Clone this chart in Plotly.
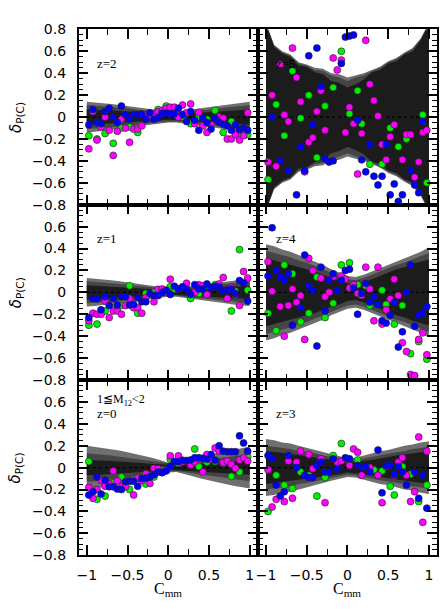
import plotly.graph_objects as go

# ---------------- data ----------------
cmm_bins = [-0.975, -0.925, -0.875, -0.825, -0.775, -0.725, -0.675, -0.625, -0.575, -0.525,
            -0.475, -0.425, -0.375, -0.325, -0.275, -0.225, -0.175, -0.125, -0.075, -0.025,
            0.025, 0.075, 0.125, 0.175, 0.225, 0.275, 0.325, 0.375, 0.425, 0.475,
            0.525, 0.575, 0.625, 0.675, 0.725, 0.775, 0.825, 0.875, 0.925, 0.975]
band_x = [-1.0, -0.9, -0.8, -0.7, -0.6, -0.5, -0.4, -0.3, -0.2, -0.1, 0.0,
          0.1, 0.2, 0.3, 0.4, 0.5, 0.6, 0.7, 0.8, 0.9, 1.0]

N = None
# z = 2
z2_blue = [-0.07, 0.07, -0.05, -0.06, 0.05, 0.08, 0.0, -0.05, 0.1, 0.02, -0.02, 0.02, 0.02, 0.025, -0.02, 0.04, -0.02, -0.005, 0.035, 0.035,
           0.03, 0.03, 0.08, 0.02, -0.04, 0.05, -0.03, -0.12, -0.01, -0.05, -0.11, -0.01, -0.05, -0.065, -0.08, -0.12, -0.07, -0.115, -0.1, -0.12]
z2_magenta = [-0.29, 0.05, -0.21, -0.09, 0.0, -0.12, -0.35, -0.13, -0.02, -0.1, -0.23, -0.11, -0.11, -0.08, 0.02, 0.01, 0.03, 0.05, 0.06, 0.08,
              0.09, 0.09, 0.0, 0.11, 0.04, 0.12, -0.06, 0.04, -0.08, -0.14, -0.07, -0.01, 0.0, -0.01, -0.2, -0.2, -0.16, -0.21, -0.17, 0.04]
z2_green = [-0.17, N, -0.2, N, -0.15, N, -0.24, N, -0.1, N, -0.09, N, -0.14, N, N, N, 0.03, 0.07, N, 0.1,
            N, 0.04, N, 0.0, N, -0.06, N, 0.0, N, -0.02, N, 0.06, 0.0, -0.14, N, -0.04, N, -0.19, -0.15, -0.16]
# z = 1
z1_blue = [-0.23, -0.056, -0.06, -0.16, -0.04, -0.12, -0.056, -0.115, -0.04, -0.04, -0.115, -0.11, -0.05, -0.086, -0.086, -0.01, -0.03, -0.03, 0.0, 0.02,
           -0.02, 0.056, 0.03, 0.05, 0.03, -0.02, 0.07, 0.03, 0.03, 0.077, 0.04, 0.056, 0.05, 0.01, 0.02, 0.03, -0.01, 0.107, 0.086, -0.08]
z1_magenta = [-0.26, -0.19, -0.2, -0.2, -0.08, -0.23, -0.17, -0.17, -0.2, -0.12, -0.056, -0.14, -0.14, -0.19, -0.05, N, -0.086, 0.027, 0.03, 0.0,
              0.12, N, 0.03, N, 0.083, N, 0.0, 0.07, 0.06, -0.02, 0.045, N, 0.077, 0.136, -0.056, 0.047, -0.02, -0.12, 0.19, 0.13]
z1_green = [-0.3, N, -0.29, N, -0.17, N, -0.14, N, -0.12, N, 0.06, N, -0.19, N, -0.01, N, 0.0, N, N, N,
            0.05, 0.03, N, N, N, -0.056, N, -0.01, N, 0.056, N, 0.07, N, N, N, -0.17, 0.01, 0.39, N, 0.02]
# z = 0
z0_blue = [-0.25, -0.22, -0.086, -0.24, -0.115, -0.175, -0.175, -0.195, -0.2, -0.13, -0.125, -0.125, -0.17, -0.1, -0.095, -0.086, -0.065, -0.04, -0.047, -0.03,
           0.012, 0.056, 0.053, 0.068, 0.065, 0.07, 0.09, 0.09, 0.086, 0.077, 0.12, 0.068, 0.2, 0.15, 0.145, 0.145, 0.145, 0.29, 0.225, 0.15]
z0_magenta = [-0.18, -0.28, -0.2, -0.115, -0.17, -0.15, -0.03, -0.12, -0.175, -0.175, -0.115, -0.25, -0.095, -0.12, -0.056, -0.145, -0.006, -0.01, -0.04, -0.02,
              0.107, N, 0.107, 0.053, N, 0.024, 0.053, 0.077, -0.04, 0.12, 0.077, 0.18, 0.15, 0.047, 0.06, 0.03, -0.006, 0.07, 0.09, 0.06]
z0_green = [0.056, N, -0.29, N, -0.26, N, -0.14, N, -0.086, N, -0.2, N, -0.095, N, -0.15, N, -0.086, N, -0.02, N,
            0.077, N, 0.04, N, N, N, 0.17, 0.01, N, 0.05, N, 0.056, N, 0.04, N, -0.08, N, -0.04, N, 0.1]
# z = 5
z5_blue = [N, 0.0, N, -0.4, N, -0.49, N, -0.71, -0.27, -0.49, 0.56, -0.07, 0.63, 0.28, -0.38, -0.41, -0.4, N, 0.49, 0.73,
           0.74, 0.75, -0.03, -0.39, -0.5, -0.25, -0.54, -0.62, -0.54, -0.25, -0.71, -0.61, -0.77, -0.71, N, -0.49, -0.62, -0.69, -0.04, N]
z5_magenta = [-0.41, 0.2, -0.45, 0.48, 0.02, -0.04, 0.63, 0.36, 0.14, -0.5, -0.23, -0.19, 0.05, 0.24, -0.12, N, 0.54, 0.43, 0.52, -0.14,
              0.09, -0.06, -0.52, -0.15, 0.7, 0.3, 0.15, 0.01, -0.25, -0.39, -0.18, -0.07, N, -0.39, -0.16, -0.16, -0.55, -0.41, -0.14, -0.12]
z5_green = [-0.57, N, 0.115, N, -0.17, N, 0.42, N, -0.01, N, 0.2, N, -0.37, N, 0.1, N, 0.27, N, 0.6, N,
            0.03, N, 0.24, -0.06, N, -0.43, N, N, -0.43, N, -0.1, N, -0.27, N, -0.2, N, N, N, 0.02, -0.6]
# z = 4
z4_blue = [0.15, 0.59, 0.2, 0.14, 0.11, 0.17, -0.3, N, -0.14, 0.34, 0.06, 0.02, -0.49, 0.23, -0.17, 0.11, 0.17, 0.02, 0.11, 0.2,
           0.21, 0.04, -0.2, -0.01, 0.08, -0.09, -0.04, -0.11, -0.26, -0.28, -0.21, -0.09, -0.5, -0.36, 0.0, 0.25, -0.31, -0.21, -0.19, -0.13]
z4_magenta = [0.28, 0.01, N, -0.13, -0.4, -0.12, 0.03, -0.09, -0.03, -0.43, 0.31, 0.2, N, 0.13, -0.04, 0.0, 0.14, N, 0.15, 0.12,
              0.04, 0.07, -0.01, -0.03, 0.23, 0.03, -0.26, 0.23, -0.29, -0.16, -0.06, 0.12, -0.03, -0.46, -0.54, -0.75, -0.76, -0.43, -0.37, -0.57]
z4_green = [-0.19, N, -0.35, N, 0.25, N, 0.17, N, -0.27, N, -0.19, N, 0.14, N, -0.23, N, -0.1, N, 0.25, N,
            0.27, N, 0.07, N, 0.06, -0.12, N, N, 0.02, -0.11, N, -0.29, N, -0.12, N, -0.56, N, -0.45, N, -0.61]
# z = 3
z3_blue = [0.11, 0.08, -0.16, -0.26, -0.22, 0.11, N, 0.0, N, -0.07, -0.09, -0.09, 0.02, 0.05, -0.04, -0.04, 0.08, -0.01, N, 0.09,
           0.08, N, 0.02, 0.0, 0.01, -0.04, N, 0.16, -0.23, 0.02, 0.02, -0.06, 0.01, -0.04, -0.16, N, -0.04, -0.28, -0.07, -0.37]
z3_magenta = [-0.02, -0.36, -0.29, N, -0.31, 0.06, -0.28, 0.05, 0.15, N, 0.12, -0.01, N, 0.08, -0.32, N, N, 0.05, 0.06, N,
              0.02, 0.17, 0.14, -0.07, N, 0.0, N, -0.07, -0.32, 0.01, N, -0.07, 0.05, 0.09, -0.07, -0.31, -0.22, 0.28, -0.5, 0.15]
z3_green = [-0.4, N, -0.07, N, -0.16, N, -0.19, N, -0.04, N, -0.07, N, -0.26, N, -0.09, N, 0.11, N, 0.22, N,
            N, N, 0.07, N, N, N, -0.02, N, -0.03, N, -0.17, -0.25, N, 0.01, N, -0.06, N, -0.31, N, -0.16]

# band half-widths (light = outer, mid, dark = inner)
z2_light = [0.14, 0.135, 0.13, 0.12, 0.11, 0.10, 0.09, 0.08, 0.07, 0.06, 0.05, 0.05, 0.06, 0.07, 0.08, 0.09, 0.10, 0.11, 0.12, 0.13, 0.14]
z2_mid = [0.11, 0.105, 0.10, 0.095, 0.085, 0.08, 0.07, 0.06, 0.055, 0.045, 0.04, 0.04, 0.045, 0.05, 0.06, 0.07, 0.08, 0.085, 0.095, 0.10, 0.11]
z2_dark = [0.07, 0.068, 0.065, 0.06, 0.055, 0.05, 0.045, 0.04, 0.035, 0.03, 0.025, 0.025, 0.03, 0.035, 0.04, 0.045, 0.05, 0.055, 0.06, 0.065, 0.07]
z1_light = [0.13, 0.125, 0.12, 0.11, 0.10, 0.09, 0.08, 0.07, 0.06, 0.05, 0.04, 0.04, 0.05, 0.06, 0.07, 0.08, 0.09, 0.10, 0.11, 0.12, 0.125]
z1_mid = [0.10, 0.095, 0.09, 0.085, 0.075, 0.07, 0.06, 0.055, 0.045, 0.04, 0.03, 0.03, 0.04, 0.045, 0.055, 0.06, 0.07, 0.075, 0.085, 0.09, 0.095]
z1_dark = [0.065, 0.06, 0.058, 0.055, 0.05, 0.045, 0.04, 0.035, 0.03, 0.025, 0.02, 0.02, 0.025, 0.03, 0.035, 0.04, 0.045, 0.05, 0.055, 0.058, 0.06]
z0_light = [0.20, 0.19, 0.18, 0.17, 0.155, 0.14, 0.125, 0.11, 0.09, 0.07, 0.045, 0.04, 0.06, 0.08, 0.10, 0.12, 0.135, 0.15, 0.165, 0.18, 0.19]
z0_mid = [0.13, 0.125, 0.12, 0.11, 0.10, 0.09, 0.08, 0.07, 0.06, 0.05, 0.035, 0.03, 0.045, 0.055, 0.065, 0.075, 0.085, 0.095, 0.105, 0.115, 0.125]
z0_dark = [0.07, 0.068, 0.065, 0.06, 0.055, 0.05, 0.045, 0.04, 0.035, 0.028, 0.02, 0.02, 0.025, 0.03, 0.035, 0.04, 0.045, 0.05, 0.055, 0.06, 0.065]
z5_light = [0.86, 0.66, 0.6, 0.57, 0.5, 0.48, 0.45, 0.44, 0.4, 0.39, 0.36, 0.38, 0.4, 0.43, 0.46, 0.51, 0.54, 0.59, 0.63, 0.72, 0.86]
z5_mid = [0.85, 0.65, 0.59, 0.56, 0.49, 0.47, 0.43, 0.42, 0.38, 0.36, 0.33, 0.36, 0.38, 0.42, 0.45, 0.5, 0.53, 0.58, 0.62, 0.71, 0.85]
z5_dark = [0.85, 0.64, 0.58, 0.55, 0.47, 0.46, 0.41, 0.39, 0.33, 0.31, 0.27, 0.3, 0.34, 0.41, 0.43, 0.49, 0.51, 0.57, 0.6, 0.7, 0.85]
z4_light = [0.44, 0.42, 0.39, 0.37, 0.34, 0.31, 0.28, 0.25, 0.21, 0.18, 0.15, 0.14, 0.16, 0.19, 0.22, 0.25, 0.28, 0.31, 0.34, 0.37, 0.41]
z4_mid = [0.38, 0.36, 0.34, 0.32, 0.29, 0.27, 0.24, 0.21, 0.18, 0.15, 0.12, 0.11, 0.13, 0.16, 0.19, 0.22, 0.25, 0.27, 0.3, 0.33, 0.36]
z4_dark = [0.31, 0.29, 0.27, 0.25, 0.23, 0.21, 0.19, 0.16, 0.13, 0.11, 0.08, 0.07, 0.09, 0.12, 0.15, 0.18, 0.21, 0.23, 0.26, 0.28, 0.3]
z3_light = [0.26, 0.25, 0.23, 0.22, 0.2, 0.18, 0.16, 0.14, 0.12, 0.1, 0.085, 0.09, 0.11, 0.13, 0.15, 0.16, 0.18, 0.2, 0.21, 0.23, 0.24]
z3_mid = [0.2, 0.19, 0.18, 0.17, 0.15, 0.14, 0.13, 0.11, 0.095, 0.08, 0.065, 0.07, 0.085, 0.1, 0.115, 0.13, 0.14, 0.15, 0.17, 0.18, 0.19]
z3_dark = [0.15, 0.145, 0.135, 0.125, 0.115, 0.105, 0.095, 0.085, 0.07, 0.06, 0.045, 0.05, 0.06, 0.07, 0.085, 0.1, 0.11, 0.12, 0.13, 0.14, 0.15]

x_tick_vals = [-1, -0.5, 0, 0.5, 1]
x_tick_text = ["\u22121", "\u22120.5", "0", "0.5", "1"]
y_tick_vals = [-0.8, -0.6, -0.4, -0.2, 0, 0.2, 0.4, 0.6, 0.8]
y_tick_text = ["\u22120.8", "\u22120.6", "\u22120.4", "\u22120.2", "0", "0.2", "0.4", "0.6", "0.8"]

# ---------------- figure ----------------
W, H = 444, 609
col_px = [(77, 257), (257, 437)]
row_px = [(22, 202), (202, 382), (382, 562)]

panels = [
    (0, 0, "z=2", z2_blue, z2_magenta, z2_green, z2_light, z2_mid, z2_dark),
    (0, 1, "z=5", z5_blue, z5_magenta, z5_green, z5_light, z5_mid, z5_dark),
    (1, 0, "z=1", z1_blue, z1_magenta, z1_green, z1_light, z1_mid, z1_dark),
    (1, 1, "z=4", z4_blue, z4_magenta, z4_green, z4_light, z4_mid, z4_dark),
    (2, 0, "z=0", z0_blue, z0_magenta, z0_green, z0_light, z0_mid, z0_dark),
    (2, 1, "z=3", z3_blue, z3_magenta, z3_green, z3_light, z3_mid, z3_dark),
]

fig = go.Figure()
band_colors = ["#6f6f6f", "#454545", "#1c1c1c"]
annotations = []
layout_axes = {}

for k, (r, c, label, blue, mag, green, light, mid, dark) in enumerate(panels):
    n = k + 1
    xa = "x" if n == 1 else f"x{n}"
    ya = "y" if n == 1 else f"y{n}"
    for w, colr in zip([light, mid, dark], band_colors):
        fig.add_trace(go.Scatter(
            x=band_x + band_x[::-1], y=w + [-v for v in w[::-1]],
            fill="toself", fillcolor=colr, mode="lines", line=dict(width=0, color=colr),
            hoverinfo="skip", showlegend=False, xaxis=xa, yaxis=ya))
    fig.add_trace(go.Scatter(x=[-1, 1], y=[0, 0], mode="lines",
                             line=dict(color="black", width=1.3, dash="dot"),
                             showlegend=False, xaxis=xa, yaxis=ya))
    for ys, colr in [(green, "#00ee00"), (mag, "#ff00ff"), (blue, "#0000ff")]:
        fig.add_trace(go.Scatter(x=cmm_bins, y=ys, mode="markers",
                                 marker=dict(size=7, color=colr, line=dict(width=0.6, color="#222")),
                                 showlegend=False, xaxis=xa, yaxis=ya))

    x0, x1 = col_px[c]
    y0, y1 = row_px[r]
    xdom = [x0 / W, x1 / W]
    ydom = [1 - y1 / H, 1 - y0 / H]
    xkey = "xaxis" if n == 1 else f"xaxis{n}"
    ykey = "yaxis" if n == 1 else f"yaxis{n}"
    layout_axes[xkey] = dict(
        domain=xdom, anchor=ya, range=[-1.1, 1.1],
        showline=True, linecolor="black", linewidth=1.5, mirror="ticks",
        ticks="inside", ticklen=10, tickwidth=1.5, tickcolor="black",
        tickmode="array", tickvals=x_tick_vals, ticktext=x_tick_text,
        showticklabels=(r == 2), ticklabelstandoff=6,
        minor=dict(tickmode="array", tickvals=[-0.75, -0.25, 0.25, 0.75], ticks="inside",
                   ticklen=6, tickwidth=1.2, tickcolor="black"),
        showgrid=False, zeroline=False,
        tickfont=dict(family="DejaVu Sans", size=14, color="black"))
    ytext = list(y_tick_text) if r == 0 else y_tick_text[:-1] + [""]
    layout_axes[ykey] = dict(
        domain=ydom, anchor=xa, range=[-0.8, 0.8],
        showline=True, linecolor="black", linewidth=1.5, mirror="ticks",
        ticks="inside", ticklen=10, tickwidth=1.5, tickcolor="black",
        tickmode="array", tickvals=y_tick_vals, ticktext=ytext,
        showticklabels=(c == 0), ticklabelstandoff=8,
        minor=dict(tickmode="linear", tick0=0, dtick=0.05, ticks="inside",
                   ticklen=5, tickwidth=1.0, tickcolor="black"),
        showgrid=False, zeroline=False,
        tickfont=dict(family="DejaVu Sans", size=14, color="black"))

    annotations.append(dict(x=-0.9, y=0.49, xref=xa, yref=ya, text=label, showarrow=False,
                            xanchor="left", yanchor="middle",
                            font=dict(family="Liberation Serif", size=13, color="black")))
    if c == 0:
        annotations.append(dict(x=14 / W, y=1 - (y0 + y1) / 2 / H, xref="paper", yref="paper",
                                text="<i>δ</i><sub>P(C)</sub>", textangle=-90, showarrow=False,
                                xanchor="center", yanchor="middle",
                                font=dict(family="DejaVu Sans", size=15, color="black")))
    if r == 2:
        annotations.append(dict(x=(x0 + x1) / 2 / W, y=1 - 585 / H, xref="paper", yref="paper",
                                text="C<sub>mm</sub>", showarrow=False,
                                xanchor="center", yanchor="top",
                                font=dict(family="Liberation Serif", size=16, color="black")))

annotations.append(dict(x=-0.9, y=0.615, xref="x5", yref="y5", text="1≦M<sub>12</sub>&lt;2",
                        showarrow=False, xanchor="left", yanchor="middle",
                        font=dict(family="Liberation Serif", size=12, color="black")))

fig.update_layout(width=W, height=H, autosize=False, margin=dict(l=0, r=0, t=0, b=0),
                  paper_bgcolor="white", plot_bgcolor="white", showlegend=False,
                  annotations=annotations, **layout_axes)

fig.write_html("out.html", config={"displayModeBar": False},
               post_script="document.body.style.margin='0';document.body.style.overflow='hidden';")
